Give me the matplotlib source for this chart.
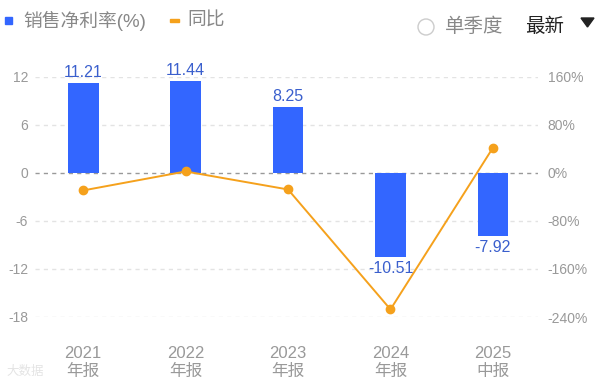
import matplotlib
matplotlib.use("Agg")
import matplotlib.pyplot as plt
from matplotlib.patches import Rectangle, Circle, Polygon

plt.rcParams['font.family'] = ['Liberation Sans', 'Noto Sans CJK SC', 'DejaVu Sans']

# data
periods = ['2021\n年报', '2022\n年报', '2023\n年报', '2024\n年报', '2025\n中报']
margin = [11.21, 11.44, 8.25, -10.51, -7.92]
yoy = [-29.5, 2.05, -27.9, -227.4, 41.5]
left_ticks = [12, 6, 0, -6, -12, -18]
right_ticks = [160, 80, 0, -80, -160, -240]

bar_color = '#3366ff'
label_color = '#3a5fcd'
line_color = '#f5a11c'
tick_color = '#999999'

W, H = 600, 385
fig = plt.figure(figsize=(W / 100, H / 100), dpi=100)

x0, x1, ytop, ybot = 35, 538, 76.5, 317
ax = fig.add_axes([x0 / W, 1 - ybot / H, (x1 - x0) / W, (ybot - ytop) / H])
ax2 = ax.twinx()

x = list(range(len(periods)))
ax.bar(x, margin, width=0.3, color=bar_color, zorder=2)
for xi, v in zip(x, margin):
    if v >= 0:
        ax2.annotate(f'{v:.2f}', (xi, v * 40 / 3), xytext=(0, 2), textcoords='offset points',
                     ha='center', va='bottom', fontsize=11.5, color=label_color, zorder=5)
    else:
        ax2.annotate(f'{v:.2f}', (xi, v * 40 / 3), xytext=(0, -3), textcoords='offset points',
                     ha='center', va='top', fontsize=11.5, color=label_color, zorder=5)

ax2.plot(x, yoy, color=line_color, linewidth=1.4, marker='o', markersize=6, zorder=3)

ax.set_xlim(-0.47, 4.44)
ax.set_ylim(-18, 12)
ax2.set_ylim(-240, 160)
ax.set_yticks(left_ticks)
ax.set_yticklabels([str(t) for t in left_ticks])
ax2.set_yticks(right_ticks)
ax2.set_yticklabels([f'{t}%' for t in right_ticks])
ax.set_xticks(x)
ax.set_xticklabels(periods, linespacing=1.2)

for t in left_ticks:
    if t == 0:
        ax.axhline(t, color='#999999', linestyle=(0, (3, 3)), linewidth=1, zorder=1)
    else:
        ax.axhline(t, color='#e3e3e3', linestyle=(0, (3, 3)), linewidth=1, zorder=1)

for a in (ax, ax2):
    for s in a.spines.values():
        s.set_visible(False)
ax.tick_params(axis='y', length=0, pad=5, labelsize=10, labelcolor=tick_color)
ax2.tick_params(axis='y', length=0, pad=7, labelsize=10, labelcolor=tick_color)
ax.tick_params(axis='x', length=0, pad=21, labelsize=12, labelcolor=tick_color)

# header overlay in pixel coordinates
ov = fig.add_axes([0, 0, 1, 1])
ov.set_xlim(0, W)
ov.set_ylim(H, 0)
ov.axis('off')
ov.add_patch(Rectangle((5, 17), 7, 7, color=bar_color))
ov.text(23, 21, '销售净利率(%)', fontsize=13.5, color='#888888', va='center', ha='left')
ov.add_patch(Rectangle((170, 19), 9, 3, color=line_color))
ov.text(187, 21, '同比', fontsize=13.5, color='#888888', va='center', ha='left')
ov.add_patch(Circle((426, 27), 8, fill=False, edgecolor='#cccccc', linewidth=1))
ov.text(445, 27, '单季度', fontsize=14, color='#888888', va='center', ha='left')
ov.text(525, 27, '最新', fontsize=14, color='#222222', va='center', ha='left')
ov.add_patch(Polygon([(581, 18), (594, 18), (587.5, 27)], color='#222222'))
ov.text(6, 372, '大数据', fontsize=9, color='#e4e4e4', va='center', ha='left')

fig.savefig('out.png', dpi=100)
